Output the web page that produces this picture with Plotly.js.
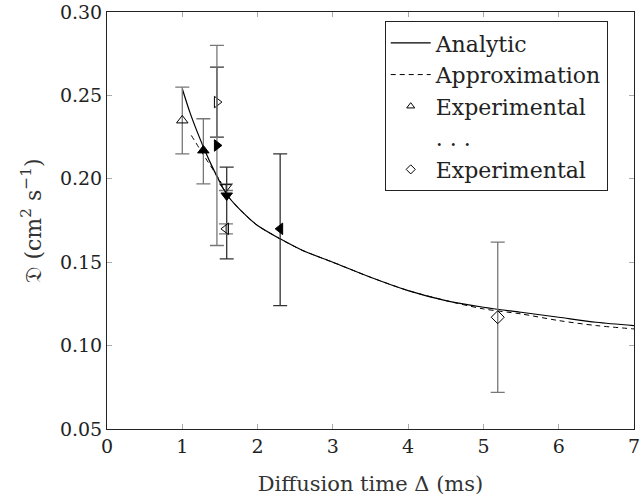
<!DOCTYPE html>
<html>
<head>
<meta charset="utf-8">
<script src="https://cdn.plot.ly/plotly-3.0.1.min.js"></script>
<style>html,body{margin:0;padding:0;background:#fff;}#chart{width:643px;height:502px;}</style>
</head>
<body>
<div id="chart"></div>
<script>
// Analytic curve
const analyticX = [1.0,1.1,1.2,1.3,1.4,1.5,1.6,1.8,2.0,2.3,2.6,3.0,3.5,4.0,4.5,5.0,5.5,6.0,6.5,7.0];
const analyticY = [0.254,0.240,0.228,0.217,0.207,0.198,0.190,0.180,0.172,0.164,0.157,0.150,0.141,0.133,0.127,0.123,0.120,0.117,0.114,0.112];
// Approximation curve
const approxX = [1.12,1.3,1.5,1.6,1.8,2.0,2.3,2.6,3.0,3.5,4.0,4.5,5.0,5.5,6.0,6.5,7.0];
const approxY = [0.226,0.213,0.199,0.190,0.180,0.172,0.164,0.157,0.150,0.141,0.133,0.127,0.122,0.119,0.115,0.112,0.110];
// Experimental points
const expX      = [1.0,   1.28,  1.46,   1.46,  1.58,  1.59,  1.58,  2.30,  5.19];
const expY      = [0.235, 0.217, 0.246,  0.220, 0.195, 0.190, 0.170, 0.170, 0.117];
const expErrUp  = [0.020, 0.019, 0.021,  0.060, 0.002, 0.017, 0.003, 0.045, 0.045];
const expErrDn  = [0.020, 0.020, 0.021,  0.060, 0.002, 0.038, 0.003, 0.046, 0.045];
const expSymbol = ['triangle-up-open','triangle-up','triangle-right-open','triangle-right','triangle-down-open','triangle-down','triangle-left-open','triangle-left','diamond-open'];
const expErrColor = ['#777','#777','#333','#777','#777','#333','#777','#333','#777'];
// Legend entries
const legendNames = ['Experimental', '. . .', 'Experimental'];
const legendSymbols = ['triangle-up-open', 'circle', 'diamond-open'];
const xTicks = [0,1,2,3,4,5,6,7];
const yTicks = [0.05,0.10,0.15,0.20,0.25,0.30];

const FONT = 'DejaVu Serif, Liberation Serif, serif';
const traces = [];
traces.push({x: analyticX, y: analyticY, mode: 'lines', name: 'Analytic',
  line: {color: '#000', width: 1.2, shape: 'spline', smoothing: 0.8}, legendrank: 1});
traces.push({x: approxX, y: approxY, mode: 'lines', name: 'Approximation',
  line: {color: '#000', width: 1, dash: '5px,4px', shape: 'spline', smoothing: 0.8}, legendrank: 2});
for (let i = 0; i < expX.length; i++) {
  traces.push({
    x: [expX[i]], y: [expY[i]], mode: 'markers', type: 'scatter',
    name: 'Experimental', showlegend: false,
    marker: {symbol: expSymbol[i], size: 10, color: '#000', line: {color: '#000', width: 1}},
    error_y: {type: 'data', symmetric: false, array: [expErrUp[i]], arrayminus: [expErrDn[i]],
      color: expErrColor[i], thickness: 1.3, width: 7}
  });
}
for (let j = 0; j < legendNames.length; j++) {
  const hidden = j === 1;
  traces.push({x: [null], y: [null], mode: 'markers', name: legendNames[j], legendrank: 3 + j,
    marker: {symbol: legendSymbols[j], size: 7, color: hidden ? 'rgba(0,0,0,0)' : '#000',
      line: {color: hidden ? 'rgba(0,0,0,0)' : '#000', width: 1}}});
}

const layout = {
  width: 643, height: 502,
  margin: {l: 107, r: 9, t: 12, b: 73},
  paper_bgcolor: '#fff', plot_bgcolor: '#fff',
  font: {family: FONT, size: 19, color: '#222'},
  showlegend: true,
  legend: {x: 0.527, y: 0.978, xanchor: 'left', yanchor: 'top',
    bordercolor: '#222', borderwidth: 1, bgcolor: '#fff',
    font: {family: FONT, size: 22, color: '#222'}, tracegroupgap: 0, itemwidth: 40},
  xaxis: {range: [0, 7], tickvals: xTicks, ticktext: xTicks.map(String),
    ticks: 'inside', ticklen: 5, tickcolor: '#aaa', tickwidth: 1,
    showline: true, linecolor: '#222', linewidth: 1, mirror: 'allticks',
    showgrid: false, zeroline: false, tickfont: {family: FONT, size: 19, color: '#222'},
    title: {text: 'Diffusion time Δ (ms)', font: {family: FONT, size: 21, color: '#333'}, standoff: 20}},
  yaxis: {range: [0.05, 0.30], tickvals: yTicks, ticktext: yTicks.map(v => v.toFixed(2)),
    ticks: 'inside', ticklen: 5, tickcolor: '#aaa', tickwidth: 1,
    showline: true, linecolor: '#222', linewidth: 1, mirror: 'allticks',
    showgrid: false, zeroline: false, tickfont: {family: FONT, size: 19, color: '#222'},
    title: {text: '𝔇 (cm<sup>2</sup> s<sup>−1</sup>)', font: {family: FONT, size: 22, color: '#333'}, standoff: 12}}
};
Plotly.newPlot('chart', traces, layout, {displayModeBar: false, staticPlot: true});
</script>
</body>
</html>
